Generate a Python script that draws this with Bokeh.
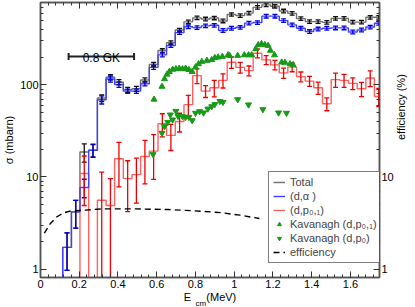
import numpy as np
from bokeh.plotting import figure
from bokeh.models import (ColumnDataSource, LogAxis, LinearAxis, Legend, LegendItem, Label, Title,
                          FixedTicker, SingleIntervalTicker, CustomJSTickFormatter, Range1d)
from bokeh.core.properties import value
from bokeh.embed import file_html
from bokeh.resources import INLINE

FONT = "Liberation Sans"

# ---------------- data ----------------
bin_width = 0.0447
e_cm = [0.137, 0.182, 0.226, 0.271, 0.316, 0.361, 0.405, 0.450, 0.495, 0.539,
        0.584, 0.629, 0.673, 0.718, 0.763, 0.808, 0.852, 0.897, 0.942, 0.986,
        1.031, 1.076, 1.120, 1.165, 1.210, 1.255, 1.299, 1.344, 1.389, 1.433,
        1.478, 1.523, 1.567, 1.612, 1.657, 1.702, 1.746]

total = [1.72, 4.18, 18.7, 19.5, 72, 121, 107, 88.5, 90.7, 113,
         167, 236, 288, 395, 484, 535, 520, 533, 495, 582,
         565, 602, 695, 740, 715, 635, 598, 524, 487, 487,
         478, 528, 528, 481, 481, 542, 542]
total_err = [0.75, 1.4, 4.2, 3.0, 6, 8, 7, 5.5, 5.5, 6,
             8, 11, 13, 17, 21, 23, 23, 23, 22, 25,
             25, 26, 30, 32, 31, 28, 26, 23, 21, 21,
             21, 23, 23, 21, 21, 24, 24]

d_alpha = [1.72, 4.18, 7.7, 19.5, 69, 116, 101, 85.5, 85.5, 103,
           155, 212, 267, 370, 428, 419, 438, 444, 390, 413,
           422, 469, 476, 558, 558, 499, 449, 412, 380, 405,
           413, 416, 416, 376, 395, 425, 467]
d_alpha_err = [0.75, 1.4, 1.75, 3.2, 7, 9, 7, 4.5, 4.5, 5.5,
               7.5, 10, 12, 16, 19, 19, 20, 20, 18, 19,
               19, 21, 21, 25, 25, 22, 20, 19, 17, 18,
               19, 19, 19, 17, 18, 19, 21]

d_p01_first_bin = 2
d_p01 = [10.9, 0.1, 5.6, 4.9, 15.8, 9.6, 10.6, 16.7, 19.1, 37.9,
         28.3, 40, 61, 126, 85.5, 93, 112, 176, 155, 143,
         221, 187, 165, 135, 156, 123, 110, 93, 62.4, 114,
         112, 104, 90.7, 119, 74.8]
d_p01_err = [6, 0, 5.7, 4.7, 8, 5.4, 5.4, 8.3, 9.7, 10.7,
             8.9, 9.2, 16, 23, 12.5, 19, 19.5, 25, 21, 17.5,
             24.5, 21, 19.5, 17, 17, 15, 13.5, 14, 10, 20,
             18, 15, 16, 23, 16.6]

kav_p01_e = [0.586, 0.627, 0.64, 0.653, 0.665, 0.682, 0.699, 0.716, 0.733, 0.749,
             0.766, 0.783, 0.80, 0.816, 0.833, 0.859, 0.884, 0.90, 0.917, 0.939,
             0.968, 0.976, 1.018, 1.052, 1.074, 1.09, 1.111, 1.124, 1.141, 1.158,
             1.175, 1.187, 1.208, 1.245, 1.262, 1.288, 1.304]
kav_p01 = [69.5, 96, 116, 130, 139, 147, 149, 151, 149, 151,
           146, 139, 156, 169, 179, 184, 187, 197, 200, 203,
           211, 208, 208, 211, 211, 211, 246, 272, 279, 272,
           267, 236, 211, 176, 175, 169, 165]

kav_p0_e = [0.581, 0.627, 0.64, 0.657, 0.67, 0.682, 0.699, 0.71, 0.733, 0.749,
            0.766, 0.783, 0.80, 0.821, 0.842, 0.864, 0.884, 0.90, 0.926, 0.942,
            1.018, 1.074, 1.148, 1.229, 1.27]
kav_p0 = [17.6, 30, 35.4, 39.4, 47.4, 41.9, 51.9, 45.8, 45.5, 44.7,
          44.7, 41.1, 49.4, 51.5, 49.9, 55, 58.3, 61.5, 66.5, 65,
          69.5, 61, 54.2, 49.9, 49.5]

eff_e = [0.02, 0.05, 0.085, 0.12, 0.15, 0.22, 0.32, 0.49, 0.66, 0.83, 0.93, 1.03, 1.13]
eff = [2.45, 3.1, 3.7, 4.08, 4.25, 4.36, 4.5, 4.5, 4.43, 4.25, 4.1, 3.85, 3.54]

x_tick_step = 0.2
y_major = [1, 10, 100]
y_minor = [2, 3, 4, 5, 6, 7, 8, 9, 20, 30, 40, 50, 60, 70, 80, 90, 200, 300, 400, 500, 600, 700]
x_lim = (0, 1.75)
y_lim = (0.81, 785)

gk_span = [0.145, 0.483]
gk_level = 203
gk_text = "0.8 GK"

# ---------------- figure ----------------
W, H = 415, 307
BL, BR, BT, BB = 36, 32, 2, 30
FW, FH = W - BL - BR, H - BT - BB
p = figure(width=W, height=H, x_range=Range1d(*x_lim), y_range=Range1d(*y_lim),
           y_axis_type="log", output_backend="svg", toolbar_location=None,
           min_border_left=BL, min_border_right=BR, min_border_top=BT, min_border_bottom=BB)
p.grid.visible = False
p.outline_line_color = "#555555"
p.outline_line_width = 1.5
p.background_fill_color = "white"
p.border_fill_color = "white"

AX = "#555555"


def style_axis(ax):
    ax.axis_line_color = AX
    ax.axis_line_width = 1.5
    ax.major_tick_in = 6
    ax.major_tick_out = 0
    ax.minor_tick_in = 3
    ax.minor_tick_out = 0
    ax.major_tick_line_color = "#333333"
    ax.minor_tick_line_color = "#333333"
    ax.major_label_text_font = FONT
    ax.major_label_text_font_size = "11px"
    ax.major_label_text_color = "black"
    ax.axis_label_text_font = FONT
    ax.axis_label_text_font_size = "11px"
    ax.axis_label_text_font_style = "normal"
    ax.axis_label_text_color = "black"
    ax.major_label_standoff = 2
    ax.axis_label_standoff = 2


xfmt = CustomJSTickFormatter(code="return String(Math.round(tick*10)/10);")
xt = SingleIntervalTicker(interval=x_tick_step, num_minor_ticks=5)

bx = p.xaxis[0]
bx.ticker = xt
bx.formatter = xfmt
style_axis(bx)
bx.axis_label_standoff = 0
bx.axis_label = "E\u00a0\u00a0\u00a0\u00a0\u00a0(MeV)"

tx = LinearAxis(ticker=xt, formatter=CustomJSTickFormatter(code="return '';"))
style_axis(tx)
tx.major_label_standoff = 0
p.add_layout(tx, "above")

yt = FixedTicker(ticks=y_major, minor_ticks=y_minor)
ly = p.yaxis[0]
ly.ticker = yt
ly.formatter = CustomJSTickFormatter(code="return String(Math.round(tick));")
ly.axis_label = "σ (mbarn)"
style_axis(ly)

ry = LogAxis(ticker=FixedTicker(ticks=y_major, minor_ticks=y_minor),
             formatter=CustomJSTickFormatter(code="return tick >= 100 ? '' : String(Math.round(tick));"),
             axis_label="efficiency (%)")
style_axis(ry)
ry.axis_label_standoff = 4
try:
    ry.axis_label_orientation = np.pi / 2
except Exception:
    pass
p.add_layout(ry, "right")

# subscript of E_cm, placed just under the "E" of the axis label
p.add_layout(Title(text="cm", align="left", offset=FW / 2 - 18.5, standoff=-13,
                   vertical_align="top", text_font=FONT, text_font_size="8px",
                   text_font_style="normal", text_color="black"), "below")

# ---------------- histograms ----------------
c = np.array(e_cm)


def step_xy(centers, values, floor=0.1):
    edges = np.append(centers - bin_width / 2, centers[-1] + bin_width / 2)
    xs = np.concatenate([[edges[0]], edges])
    ys = np.concatenate([[floor], values, [values[-1]]])
    return xs, ys


TOT_LINE, TOT_BAR = "#707070", "#111111"
A_LINE, A_BAR = "#4040ff", "#0000e0"
P_LINE, P_BAR = "#ff6060", "#ee0000"
GREEN = "#179a17"

tot_v = np.array(total, dtype=float)
a_v = np.array(d_alpha, dtype=float)
p_c = c[d_p01_first_bin:]
p_v = np.array(d_p01, dtype=float)

xs, ys = step_xy(c, tot_v)
r_tot = p.step(xs, ys, mode="after", line_color=TOT_LINE, line_width=1.4)
xs, ys = step_xy(p_c, p_v)
r_p = p.step(xs, ys, mode="after", line_color=P_LINE, line_width=1.4)
xs, ys = step_xy(c, a_v)
r_a = p.step(xs, ys, mode="after", line_color=A_LINE, line_width=1.4)


def errorbars(centers, vals, errs, color):
    errs = np.array(errs, dtype=float)
    lo = np.maximum(vals - errs, 1e-3)
    hi = vals + errs
    m = errs > 0
    src = ColumnDataSource(dict(x=centers[m], lo=lo[m], hi=hi[m]))
    p.segment(x0="x", y0="lo", x1="x", y1="hi", source=src, line_color=color, line_width=1.3)
    p.scatter(x="x", y="hi", marker="dash", size=5, line_color=color, line_width=1.3, source=src)
    p.scatter(x="x", y="lo", marker="dash", size=5, line_color=color, line_width=1.3, source=src)


errorbars(c, tot_v, total_err, TOT_BAR)
errorbars(c, a_v, d_alpha_err, A_BAR)
errorbars(p_c, p_v, d_p01_err, P_BAR)

r_k01 = p.scatter(kav_p01_e, kav_p01, marker="triangle", size=6, fill_color=GREEN, line_color=GREEN)
r_k0 = p.scatter(kav_p0_e, kav_p0, marker="inverted_triangle", size=6, fill_color=GREEN, line_color=GREEN)

r_eff = p.line(eff_e, eff, line_color="black", line_width=1.4, line_dash="6 4")

# ---------------- 0.8 GK bar ----------------
p.segment(x0=[gk_span[0]], y0=[gk_level], x1=[gk_span[1]], y1=[gk_level], line_color="#222222", line_width=2)
p.scatter(x=gk_span, y=[gk_level, gk_level], marker="dash", angle=np.pi / 2, size=7,
          line_color="#222222", line_width=2)
p.add_layout(Label(x=(gk_span[0] + gk_span[1]) / 2, y=gk_level, text=gk_text, text_align="center",
                   text_baseline="alphabetic", y_offset=-1, text_font=FONT, text_font_size="12px",
                   text_color="black"))

# ---------------- legend ----------------
legend = Legend(items=[
    LegendItem(label=value("Total"), renderers=[r_tot]),
    LegendItem(label=value("(d,α )"), renderers=[r_a]),
    LegendItem(label=value("(d,p₀,₁)"), renderers=[r_p]),
    LegendItem(label=value("Kavanagh (d,p₀,₁)"), renderers=[r_k01]),
    LegendItem(label=value("Kavanagh (d,p₀)"), renderers=[r_k0]),
    LegendItem(label=value("efficiency"), renderers=[r_eff]),
], location=(FW - 119, 14))
legend.label_text_font = FONT
legend.label_text_font_size = "11px"
legend.label_height = 12
legend.glyph_width = 12
legend.glyph_height = 10
legend.label_standoff = 5
legend.spacing = 2
legend.padding = 4
legend.margin = 0
legend.border_line_color = "black"
legend.border_line_width = 1
legend.background_fill_color = "white"
legend.background_fill_alpha = 1.0
p.add_layout(legend)

open("out.html", "w").write(file_html(p, INLINE))
